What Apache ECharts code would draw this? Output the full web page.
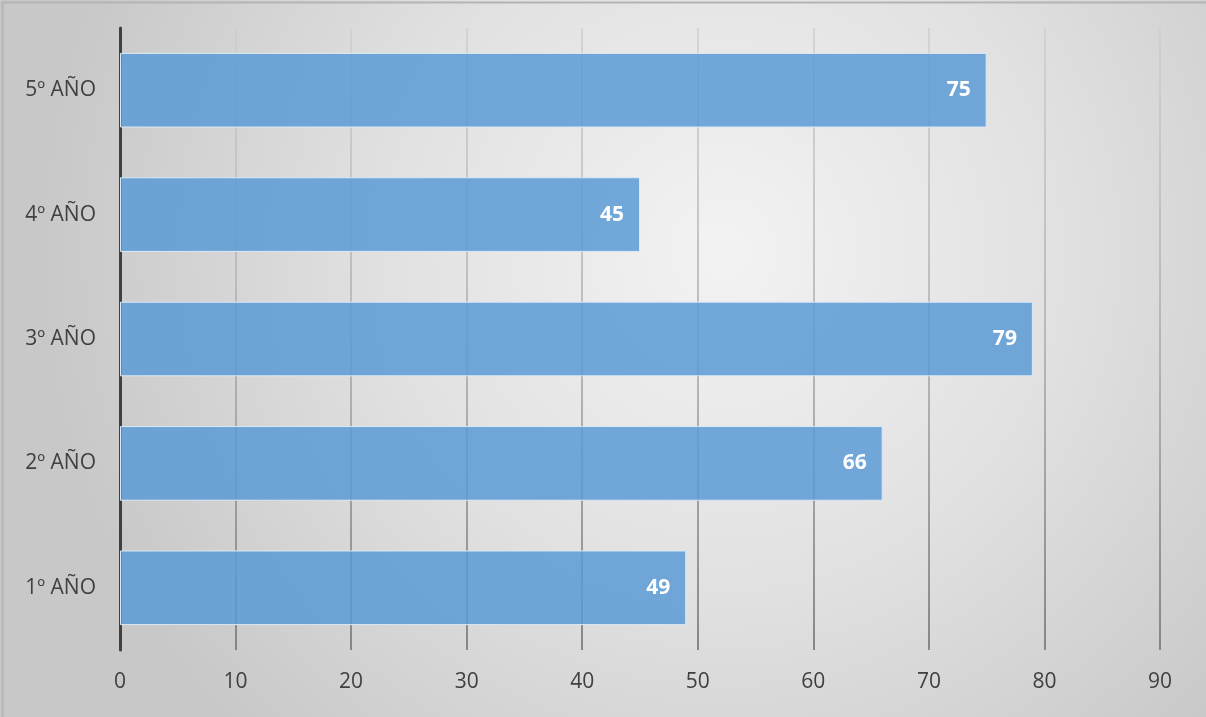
<!DOCTYPE html>
<html><head><meta charset="utf-8">
<script src="https://cdn.jsdelivr.net/npm/echarts@6/dist/echarts.min.js"></script>
<style>html,body{margin:0;padding:0;}#c{width:1206px;height:717px;}</style>
</head><body><div id="c"></div>
<script>
const categories = ['1º AÑO', '2º AÑO', '3º AÑO', '4º AÑO', '5º AÑO'];
const values = [49, 66, 79, 45, 75];
const xMin = 0, xMax = 90, xStep = 10;

const chart = echarts.init(document.getElementById('c'), null, {renderer: 'canvas'});
chart.setOption({
  backgroundColor: {
    type: 'radial', x: 0.6, y: 0.35, r: 0.95,
    colorStops: [{offset: 0, color: '#f3f3f3'}, {offset: 0.5, color: '#e1e1e1'}, {offset: 1, color: '#c8c8c8'}]
  },
  animation: false,
  graphic: [{type: 'rect', left: 0, top: 0, shape: {width: 1205, height: 716}, style: {fill: 'none', stroke: '#b4b4b4', lineWidth: 2}, silent: true}],
  grid: {left: 120, right: 46, top: 28, bottom: 67},
  xAxis: {
    type: 'value', min: xMin, max: xMax, interval: xStep,
    axisLine: {show: false}, axisTick: {show: false},
    axisLabel: {color: '#404040', fontSize: 21, fontFamily: 'Open Sans', margin: 22},
    splitLine: {lineStyle: {width: 2, color: {
      type: 'linear', global: true, x: 0, y: 28, x2: 0, y2: 650,
      colorStops: [{offset: 0, color: 'rgba(205,205,205,0.7)'}, {offset: 0.5, color: 'rgba(170,170,170,0.75)'}, {offset: 1, color: 'rgba(120,120,120,0.85)'}]
    }}}
  },
  yAxis: {
    type: 'category', data: categories,
    axisLine: {lineStyle: {color: '#404040', width: 3}},
    axisTick: {show: false},
    axisLabel: {color: '#404040', fontSize: 21, fontFamily: 'Open Sans', margin: 24}
  },
  series: [{
    type: 'bar', data: values, barCategoryGap: '40%',
    itemStyle: {color: 'rgba(91,155,213,0.85)', borderColor: '#dce9f5', borderWidth: 1},
    label: {show: true, position: 'insideRight', distance: 16, color: '#fff', fontWeight: 'bold', fontSize: 21, fontFamily: 'Open Sans'}
  }]
});
</script></body></html>
